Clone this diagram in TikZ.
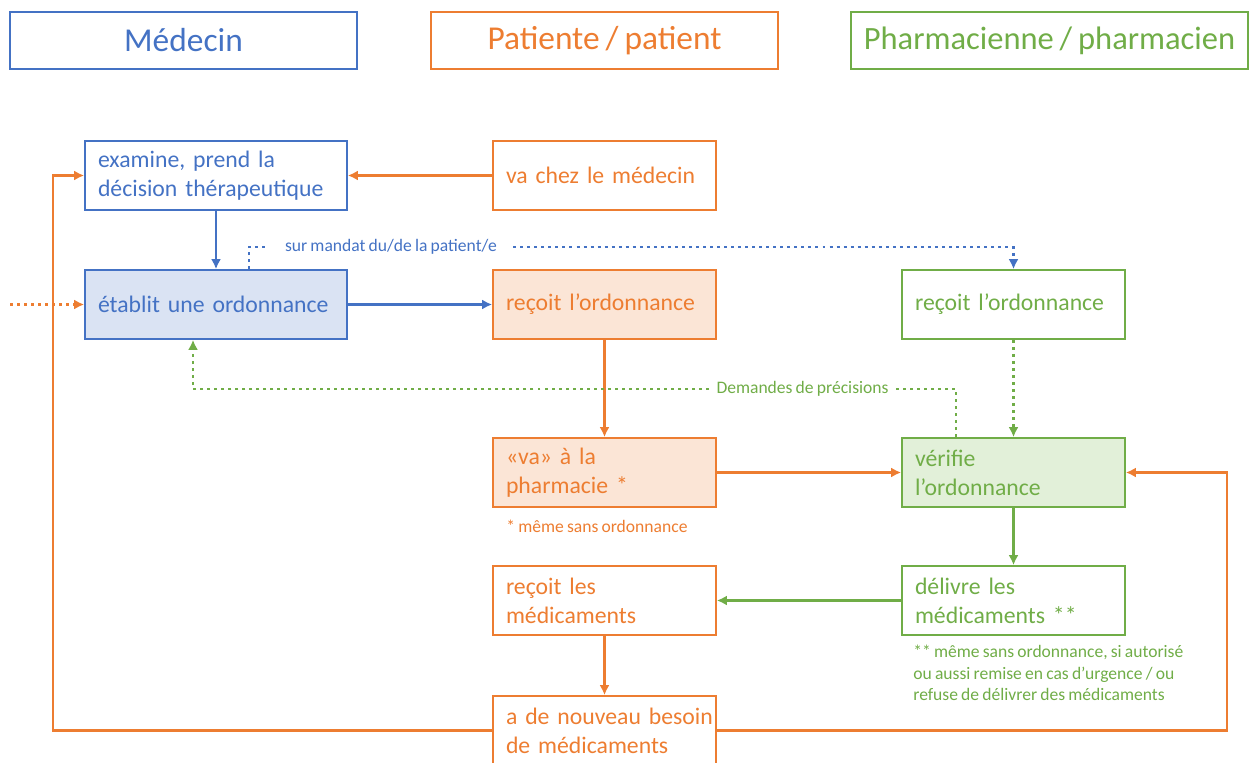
\documentclass[tikz,border=0pt]{standalone}
\usepackage{fontspec}
\setmainfont[WordSpace=0.8]{Carlito}
\usetikzlibrary{positioning,arrows.meta}
\definecolor{mblue}{HTML}{4472C4}
\definecolor{morange}{HTML}{ED7D31}
\definecolor{mgreen}{HTML}{70AD47}
\definecolor{fblue}{HTML}{DAE3F3}
\definecolor{forange}{HTML}{FBE5D6}
\definecolor{fgreen}{HTML}{E2F0D9}
\tikzset{
  header/.style={draw, line width=1.1pt, minimum height=1.14cm, minimum width=6.94cm, font=\fontsize{19}{23}\selectfont},
  box/.style={draw, line width=1pt, minimum height=1.38cm, text width=3.94cm, inner xsep=0.26cm, align=left, font=\fontsize{13.5}{16.5}\selectfont},
  widebox/.style={box, text width=4.72cm},
  note/.style={inner sep=0pt, align=left, font=\fontsize{10}{12.2}\selectfont},
  link/.style={line width=1.5pt, -{Latex[length=5.7pt, width=5.7pt]}},
  dotlink/.style={line width=1.5pt, dash pattern=on 1.7pt off 2.3pt}
}
\begin{document}
\begin{tikzpicture}[x=0.02cm, y=-0.02cm]
\useasboundingbox (0,0) rectangle (1250,763);
\node[header, mblue] (hmed) at (183.5,40.5) {Médecin};
\node[header, morange] (hpat) at (604.5,40.5) {Patiente / patient};
\node[header, mgreen, minimum width=7.94cm, font=\fontsize{18.5}{23}\selectfont] (hpha) at (1049.5,40.5) {Pharmacienne / pharmacien};

\node[widebox, mblue, minimum width=5.24cm] (exam) at (216,175.5) {examine, prend la\\décision thérapeutique};
\node[widebox, mblue, fill=fblue, minimum width=5.24cm] (ordo) at (216,304.5) {établit une ordonnance};
\node[box, morange] (visit) at (604.5,175.5) {va chez le médecin};
\node[box, morange, fill=forange] (precu) at (604.5,304.5) {reçoit l’ordonnance};
\node[box, morange, fill=forange] (pharma) at (604.5,472.5) {«va» à la\\pharmacie *};
\node[box, morange] (medrecu) at (604.5,600.5) {reçoit les\\médicaments};
\node[box, morange] (besoin) at (604.5,730.5) {\mbox{a de nouveau besoin}\\de médicaments};
\node[box, mgreen] (phrecu) at (1013.5,304.5) {reçoit l’ordonnance};
\node[box, mgreen, fill=fgreen] (verif) at (1013.5,472.5) {vérifie\\l’ordonnance};
\node[box, mgreen] (deliv) at (1013.5,600.5) {délivre les\\médicaments **};

\node[note, morange, anchor=west] (star) at (506,526) {* même sans ordonnance};
\node[note, mgreen, anchor=north west] (stars) at (913,645) {** même sans ordonnance, si autorisé\\ou aussi remise en cas d’urgence / ou\\refuse de délivrer des médicaments};
\node[note, mblue, inner xsep=0.32cm] (mandat) at (391,247) {sur mandat du/de la patient/e};
\node[note, mgreen, inner xsep=0.14cm] (prec) at (802.5,389) {Demandes de précisions};

\coordinate (ext) at (10,304.5);
\coordinate (lc) at (53,730.5);
\coordinate (rc) at (1227,730.5);

\draw[link, morange] (visit) -- (exam);
\draw[link, mblue] (exam) -- (ordo);
\draw[link, mblue] (ordo) -- (precu);
\draw[link, morange] (precu) -- (pharma);
\draw[link, morange] (pharma) -- (verif);
\draw[link, mgreen] (verif) -- (deliv);
\draw[link, mgreen] (deliv) -- (medrecu);
\draw[link, morange] (medrecu) -- (besoin);
\draw[link, morange] (besoin.west) -- (lc) |- (exam.west);
\draw[link, morange] (besoin.east) -- (rc) |- (verif.east);
\draw[dotlink, morange, -{Latex[length=5.7pt, width=5.7pt]}] (ext) -- (ordo);
\draw[dotlink, mgreen, -{Latex[length=5.7pt, width=5.7pt]}] (phrecu) -- (verif);
\draw[dotlink, mblue] ([xshift=0.66cm]ordo.north) |- (mandat.west);
\draw[dotlink, mblue, -{Latex[length=5.7pt, width=5.7pt]}] (mandat.east) -| (phrecu.north);
\draw[dotlink, mgreen] ([xshift=-1.15cm]verif.north) |- (prec.east);
\draw[dotlink, mgreen, -{Latex[length=5.7pt, width=5.7pt]}] (prec.west) -| ([xshift=-0.46cm]ordo.south);
\end{tikzpicture}
\end{document}
